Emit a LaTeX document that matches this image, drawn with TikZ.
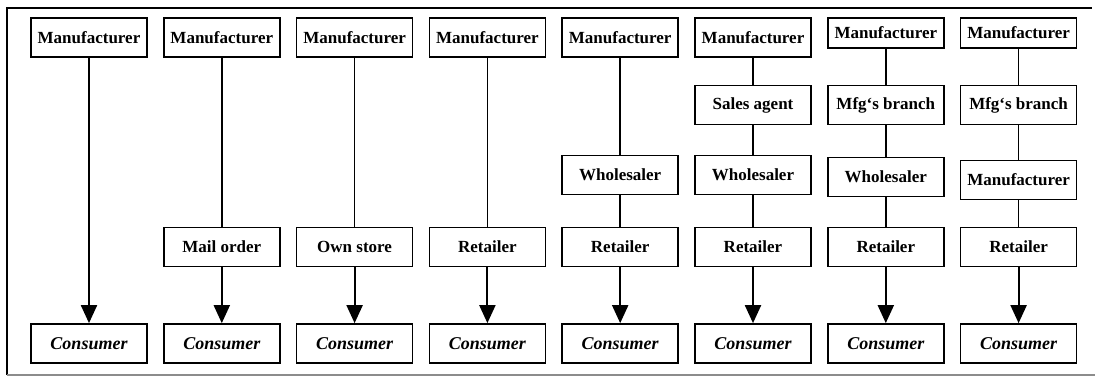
\documentclass[tikz,border=0pt]{standalone}
\usepackage{fontspec}
\setmainfont{Liberation Serif}
\usetikzlibrary{arrows.meta}
\begin{document}
\begin{tikzpicture}[x=1pt,y=-1pt,
  stage/.style={draw, line width=1.7pt, minimum width=116pt, minimum height=39pt,
    inner sep=0pt, font=\fontsize{17}{19}\selectfont\bfseries},
  shortstage/.style={stage, minimum height=30pt},
  buyer/.style={stage, font=\fontsize{18}{20}\selectfont\bfseries\itshape},
  link/.style={line width=1.5pt},
  flow/.style={line width=2pt, -{Triangle[width=16pt,length=18pt]}},
  frameline/.style={line width=1.6pt}]
\useasboundingbox (0,0) rectangle (1101,377);

% outer frame
\draw[frameline] (7,375) -- (7,8) -- (1092,8);
\draw[frameline, black!45] (7,375) -- (1095,375);

% column 1
\node[stage] (m1) at (89,37.5) {Manufacturer};
\node[buyer] (c1) at (89,343.5) {Consumer};
\draw[flow] (m1) -- (c1);

% column 2
\node[stage] (m2) at (221.8,37.5) {Manufacturer};
\node[stage] (d2) at (221.8,247) {Mail order};
\node[buyer] (c2) at (221.8,343.5) {Consumer};
\draw[link] (m2) -- (d2);
\draw[flow] (d2) -- (c2);

% column 3
\node[stage] (m3) at (354.6,37.5) {Manufacturer};
\node[stage] (d3) at (354.6,247) {Own store};
\node[buyer] (c3) at (354.6,343.5) {Consumer};
\draw[link] (m3) -- (d3);
\draw[flow] (d3) -- (c3);

% column 4
\node[stage] (m4) at (487.4,37.5) {Manufacturer};
\node[stage] (d4) at (487.4,247) {Retailer};
\node[buyer] (c4) at (487.4,343.5) {Consumer};
\draw[link] (m4) -- (d4);
\draw[flow] (d4) -- (c4);

% column 5
\node[stage] (m5) at (620.2,37.5) {Manufacturer};
\node[stage] (w5) at (620.2,175) {Wholesaler};
\node[stage] (d5) at (620.2,247) {Retailer};
\node[buyer] (c5) at (620.2,343.5) {Consumer};
\draw[link] (m5) -- (w5);
\draw[link] (w5) -- (d5);
\draw[flow] (d5) -- (c5);

% column 6
\node[stage] (m6) at (753,37.5) {Manufacturer};
\node[stage] (a6) at (753,105) {Sales agent};
\node[stage] (w6) at (753,175) {Wholesaler};
\node[stage] (d6) at (753,247) {Retailer};
\node[buyer] (c6) at (753,343.5) {Consumer};
\draw[link] (m6) -- (a6);
\draw[link] (a6) -- (w6);
\draw[link] (w6) -- (d6);
\draw[flow] (d6) -- (c6);

% column 7
\node[shortstage] (m7) at (885.8,33) {Manufacturer};
\node[stage] (b7) at (885.8,105) {Mfg`s branch};
\node[stage] (w7) at (885.8,177) {Wholesaler};
\node[stage] (d7) at (885.8,247) {Retailer};
\node[buyer] (c7) at (885.8,343.5) {Consumer};
\draw[link] (m7) -- (b7);
\draw[link] (b7) -- (w7);
\draw[link] (w7) -- (d7);
\draw[flow] (d7) -- (c7);

% column 8
\node[shortstage] (m8) at (1018.6,33) {Manufacturer};
\node[stage] (b8) at (1018.6,105) {Mfg`s branch};
\node[stage] (n8) at (1018.6,180) {Manufacturer};
\node[stage] (d8) at (1018.6,247) {Retailer};
\node[buyer] (c8) at (1018.6,343.5) {Consumer};
\draw[link] (m8) -- (b8);
\draw[link] (b8) -- (n8);
\draw[link] (n8) -- (d8);
\draw[flow] (d8) -- (c8);
\end{tikzpicture}
\end{document}
